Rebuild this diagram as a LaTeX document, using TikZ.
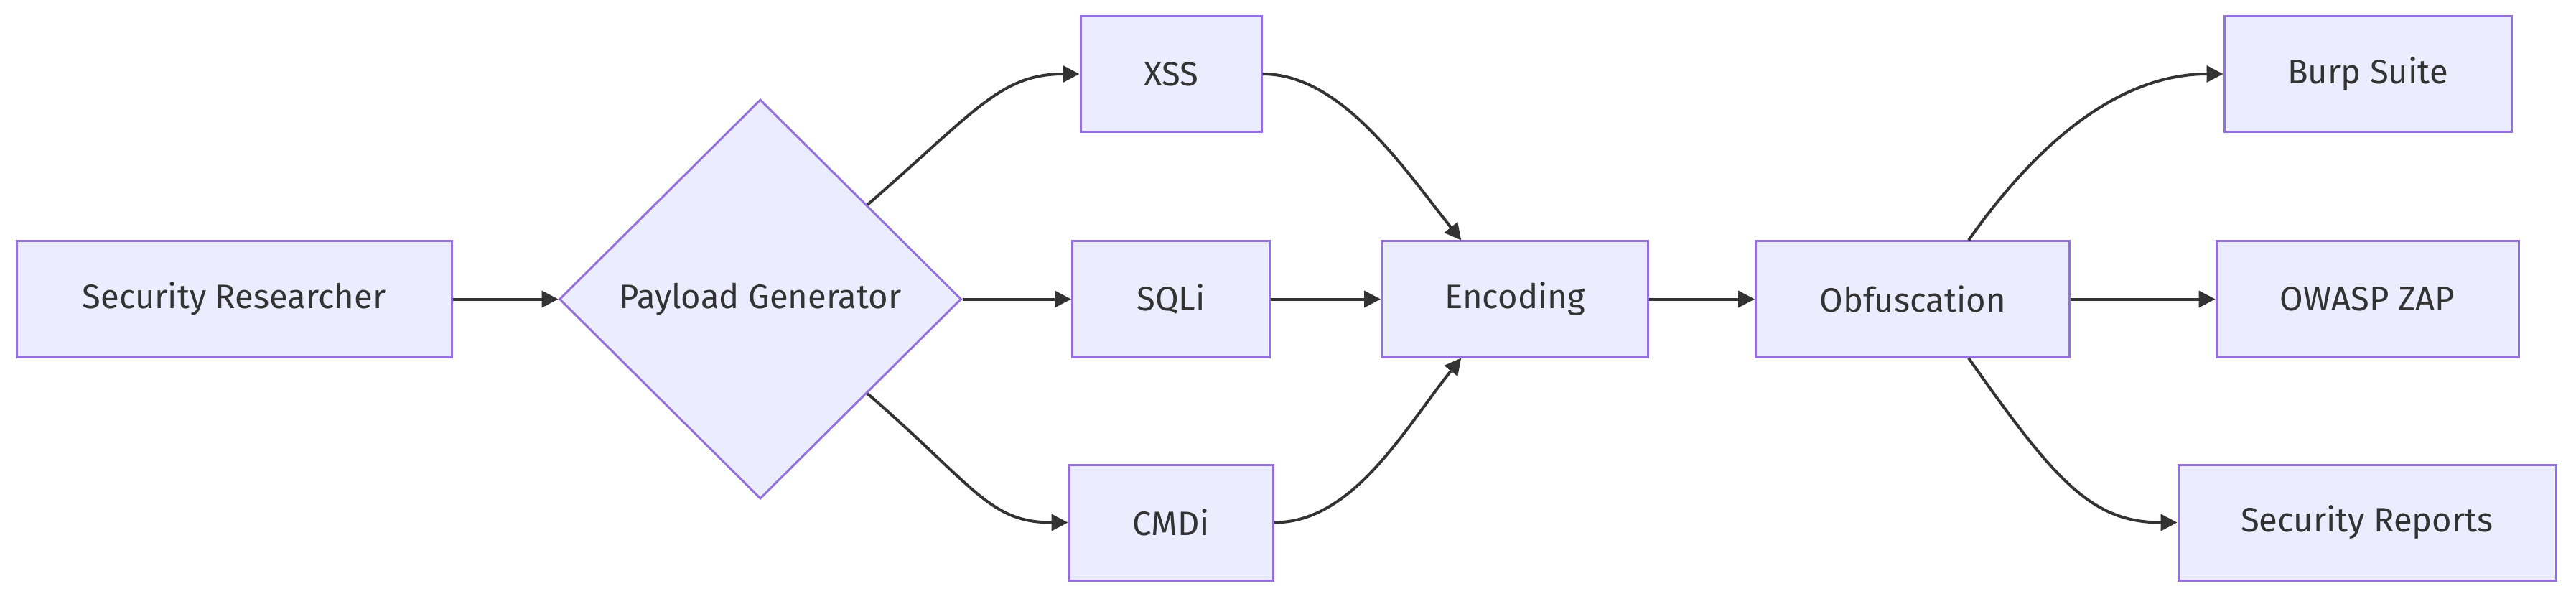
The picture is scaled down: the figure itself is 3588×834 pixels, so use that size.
\documentclass[tikz,border=0pt]{standalone}
\usepackage{fontspec}
\setmainfont{Fira Sans}
\usetikzlibrary{shapes.geometric,arrows.meta,calc}
\definecolor{boxfill}{HTML}{ECECFF}
\definecolor{boxline}{HTML}{9370DB}
\definecolor{ink}{HTML}{333333}
\begin{document}
\begin{tikzpicture}[x=0.5pt,y=-0.5pt,
  box/.style={draw=boxline,fill=boxfill,line width=1.5pt,minimum height=80.5pt,inner sep=0pt,text=ink,font=\fontsize{23.6pt}{28pt}\selectfont},
  dia/.style={diamond,aspect=1,draw=boxline,fill=boxfill,line width=1.5pt,minimum width=280pt,minimum height=278pt,inner sep=0pt,text=ink,font=\fontsize{23.6pt}{28pt}\selectfont},
  link/.style={draw=ink,line width=2pt,-{Triangle[length=11.5pt,width=11.5pt]}}]
\useasboundingbox (0,0) rectangle (3588,834);
\node[box,minimum width=303pt] (sr) at (326,416.5) {Security Researcher};
\node[dia] (pg) at (1059,416.5) {Payload Generator};
\node[box,minimum width=126pt] (xss) at (1631,103) {XSS};
\node[box,minimum width=137.5pt] (sqli) at (1631,416.5) {SQLi};
\node[box,minimum width=142pt] (cmdi) at (1631,727.5) {CMDi};
\node[box,minimum width=185.5pt] (enc) at (2110,416.5) {Encoding};
\node[box,minimum width=218.5pt] (obf) at (2664,416.5) {Obfuscation};
\node[box,minimum width=200pt] (burp) at (3298,103) {Burp Suite};
\node[box,minimum width=210.5pt] (owasp) at (3297.5,416.5) {OWASP ZAP};
\node[box,minimum width=263pt] (rep) at (3297,727.5) {Security Reports};
\coordinate (pgtr) at ($(pg.north)!0.53!(pg.east)$);
\coordinate (pgbr) at ($(pg.south)!0.53!(pg.east)$);
\coordinate (enct) at ($(enc.north west)!0.30!(enc.north east)$);
\coordinate (encb) at ($(enc.south west)!0.30!(enc.south east)$);
\coordinate (obft) at ($(obf.north west)!0.677!(obf.north east)$);
\coordinate (obfb) at ($(obf.south west)!0.677!(obf.south east)$);
\draw[link] (sr.east) -- (pg.west);
\draw[link] (pgtr) .. controls +(150,-130) and +(-110,0) .. (xss.west);
\draw[link] (pg.east) -- (sqli.west);
\draw[link] (pgbr) .. controls +(150,130) and +(-110,0) .. (cmdi.west);
\draw[link] (xss.east) .. controls +(110,0) and +(-80,-100) .. (enct);
\draw[link] (sqli.east) -- (enc.west);
\draw[link] (cmdi.east) .. controls +(110,0) and +(-80,100) .. (encb);
\draw[link] (enc.east) -- (obf.west);
\draw[link] (obft) .. controls +(120,-170) and +(-120,0) .. (burp.west);
\draw[link] (obf.east) -- (owasp.west);
\draw[link] (obfb) .. controls +(120,170) and +(-120,0) .. (rep.west);
\end{tikzpicture}
\end{document}
